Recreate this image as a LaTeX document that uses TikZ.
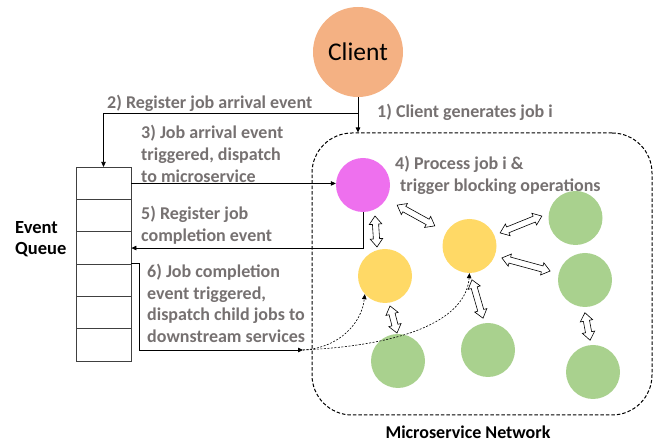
\documentclass[tikz,border=0pt]{standalone}
\usepackage{fontspec}
\setmainfont{Carlito}
\usetikzlibrary{arrows.meta,shapes.arrows,calc}
\definecolor{lblgray}{RGB}{118,113,113}
\definecolor{clientc}{RGB}{244,177,131}
\definecolor{magc}{RGB}{238,112,238}
\definecolor{yelc}{RGB}{255,217,102}
\definecolor{grnc}{RGB}{169,209,142}
\begin{document}
\begin{tikzpicture}[x=1pt,y=-1pt,
  circ/.style={circle, minimum size=54pt, inner sep=0pt},
  qcell/.style={draw=black!75, line width=0.8pt, minimum width=55pt, minimum height=32.3pt, inner sep=0pt},
  arr/.style={draw=black, line width=0.8pt, -{Triangle[length=5pt,width=4.5pt]}},
  dotarr/.style={draw=black, line width=0.6pt, dash pattern=on 2pt off 1.5pt, -{Triangle[length=5pt,width=4.5pt]}},
  lbl/.style={font=\fontsize{18}{21.8}\selectfont\bfseries, text=lblgray, anchor=base west, inner sep=0pt},
  blk/.style={font=\fontsize{18.5}{21}\selectfont\bfseries, text=black, inner sep=0pt},
  dblarr/.style={double arrow, draw=black, fill=white, line width=0.6pt, inner xsep=0pt, inner ysep=2.8pt,
    minimum width=0pt, double arrow head extend=3.2pt, double arrow head indent=0pt, double arrow tip angle=75}
]
\useasboundingbox (0,0) rectangle (665,443);

% microservice network box
\node[draw=black, line width=1pt, dash pattern=on 3.5pt off 2pt, rounded corners=40pt,
      minimum width=340pt, minimum height=282pt, inner sep=0pt] (box) at (482,274) {};
\node[blk, anchor=base, font=\fontsize{18}{21}\selectfont\bfseries] (msn) at (468,439) {Microservice Network};

% client
\node[circ, fill=clientc, minimum size=90pt, font=\fontsize{25.5}{30}\selectfont] (client) at (358,52) {Client};

% microservices
\node[circ, fill=magc] (m) at (363,185) {};
\node[circ, fill=yelc] (y1) at (385,276) {};
\node[circ, fill=yelc] (y2) at (469.5,246) {};
\node[circ, fill=grnc] (g1) at (575.5,218) {};
\node[circ, fill=grnc] (g2) at (585,280) {};
\node[circ, fill=grnc] (g3) at (593,372) {};
\node[circ, fill=grnc] (g4) at (398,361) {};
\node[circ, fill=grnc] (g5) at (488,350) {};

% blocking double arrows
\node[dblarr, minimum height=31pt, rotate=-86.3] (a1) at (376,231.5) {};
\node[dblarr, minimum height=43pt, rotate=-28.9] (a2) at (416,215.5) {};
\node[dblarr, minimum height=28pt, rotate=-75.5] (a3) at (393.5,319.5) {};
\node[dblarr, minimum height=40pt, rotate=-73.9] (a4) at (477.5,299) {};
\node[dblarr, minimum height=45pt, rotate=22.0] (a5) at (521,224.5) {};
\node[dblarr, minimum height=50pt, rotate=-15.2] (a6) at (526,264.5) {};
\node[dblarr, minimum height=28pt, rotate=-79.5] (a7) at (587.5,326.5) {};

% event queue
\foreach \i in {1,...,6}
  \node[qcell] (q\i) at (103.5,{167.3+32.3*(\i-0.5)}) {};
\node[blk, anchor=base west] (evq) at (15,234) {\begin{tabular}[t]{@{}l@{}}Event\\Queue\end{tabular}};

% connectors
\coordinate (j) at (358,113);
\draw[arr] (client.south) -- (client.south |- box.north);
\draw[arr] (j) -| (q1.north);
\draw[arr] (q1.east) -- (q1.east -| m.west);
\draw[arr] (m.south) |- (q3.east);
\coordinate (d6) at (303,350);
\draw[arr] (q4.north east) -- ++(8,0) |- (d6);
\draw[dotarr] (d6) .. controls (340,348) and (362,322) .. (y1.222);
\draw[dotarr] (d6) .. controls (410,345) and (466,318) .. (y2.south);

% labels
\node[lbl] (t1) at (377,117.3) {1) Client generates job i};
\node[lbl] (t2) at (107,108.3) {2) Register job arrival event};
\node[lbl] (t3) at (141,138.7) {\begin{tabular}[t]{@{}l@{}}3) Job arrival event\\triggered, dispatch\\to microservice\end{tabular}};
\node[lbl] (t4a) at (395,170) {4) Process job i \&};
\node[lbl] (t4b) at (400,191.7) {trigger blocking operations};
\node[lbl] (t5) at (141,219.3) {\begin{tabular}[t]{@{}l@{}}5) Register job\\completion event\end{tabular}};
\node[lbl] (t6) at (147,277.3) {\begin{tabular}[t]{@{}l@{}}6) Job completion\\event triggered,\\dispatch child jobs to\\downstream services\end{tabular}};
\end{tikzpicture}
\end{document}
